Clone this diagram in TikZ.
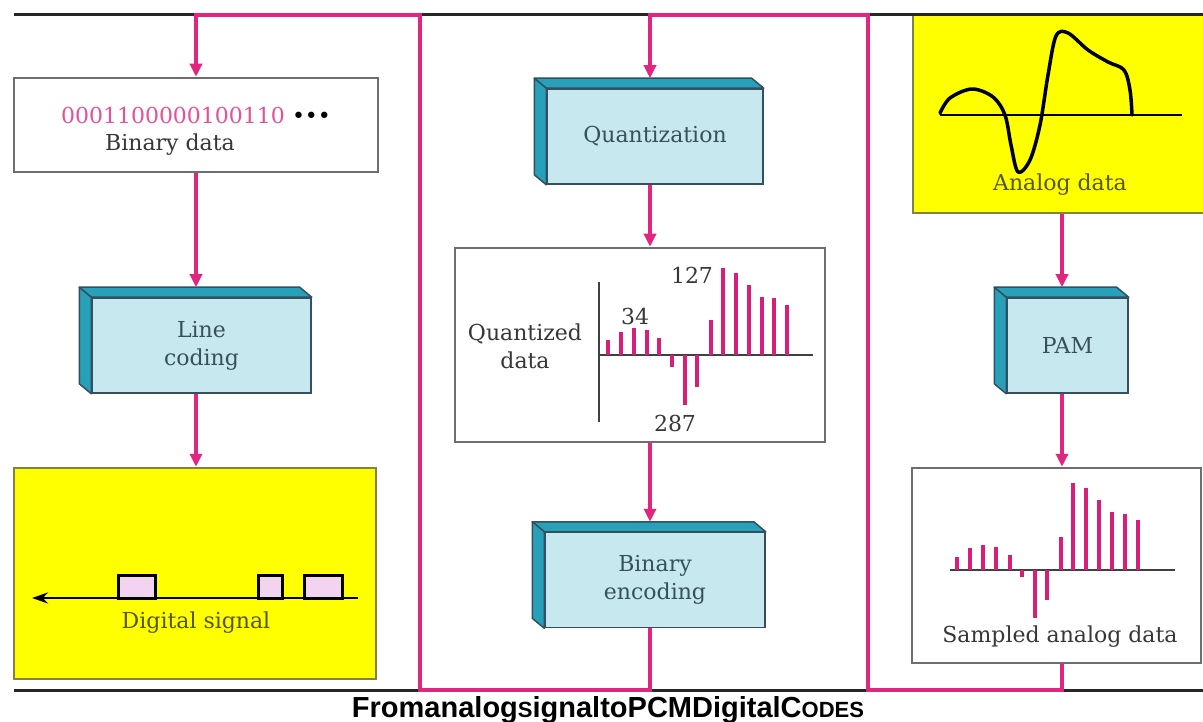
\documentclass[tikz,border=0pt]{standalone}
\usepackage{fontspec}
\setmainfont{DejaVu Serif}
\newfontfamily\capfont{Liberation Sans}
\usetikzlibrary{arrows.meta,calc}
\definecolor{mag}{RGB}{226,38,128}
\definecolor{digc}{RGB}{228,80,155}
\definecolor{barc}{RGB}{215,30,120}
\definecolor{frontc}{RGB}{200,232,240}
\definecolor{sidec}{RGB}{40,160,185}
\definecolor{edge}{RGB}{50,80,95}
\definecolor{boxtext}{RGB}{55,80,90}
\definecolor{yel}{RGB}{255,255,0}
\definecolor{yborder}{RGB}{130,130,70}
\definecolor{boxgray}{RGB}{110,110,110}
\definecolor{olivetext}{RGB}{85,85,20}
\definecolor{graytext}{RGB}{55,55,55}
\definecolor{pulsec}{RGB}{242,212,240}
\newcommand{\smcap}[1]{{\fontsize{22}{22}\selectfont #1}}
\newcommand{\tdbox}[4]{%
  \node[front, minimum width=#3] (#1) at #2 {#4};
  \filldraw[side] (#1.north west) -- (#1.north east) -- ++(-12,-10) -- ($(#1.north west)+(-12,-10)$) -- cycle;
  \filldraw[side] (#1.north west) -- (#1.south west) -- ++(-12,-10) -- ($(#1.north west)+(-12,-10)$) -- cycle;
}
\begin{document}
\begin{tikzpicture}[x=1pt,y=-1pt,
  every node/.style={font=\fontsize{22}{28}\selectfont},
  flow/.style={draw=mag, line width=3.5pt},
  arr/.style={flow, -{Triangle[length=13pt,width=12pt]}},
  rule/.style={draw=black!85, line width=3pt},
  wbox/.style={draw=boxgray, line width=2.5pt, fill=white, inner sep=0pt},
  ybox/.style={draw=yborder, line width=2.5pt, fill=yel, inner sep=0pt},
  front/.style={draw=edge, line width=1.5pt, fill=frontc, inner sep=0pt, minimum height=95pt, text=boxtext, align=center},
  side/.style={draw=edge, line width=1.5pt, fill=sidec, line join=round},
  lbl/.style={inner sep=0pt, text=graytext, align=center},
  ylbl/.style={inner sep=0pt, text=olivetext},
  axis/.style={draw=black!75, line width=2pt},
  bar/.style={draw=barc, line width=4pt},
  wave/.style={draw=black, line width=3.5pt, line cap=round, line join=round},
  pulse/.style={draw=black, line width=3pt, fill=pulsec}]
\useasboundingbox (0,0) rectangle (1203,722);
\fill[white] (0,0) rectangle (1203,722);
% column coordinates
\coordinate (cL) at (196,0);
\coordinate (cM) at (650,0);
\coordinate (cR) at (1062,0);
\coordinate (b1) at (420,690);
\coordinate (t1) at (420,15);
\coordinate (b2) at (868,690);
\coordinate (t2) at (868,15);

% ---- left column
\node[wbox, minimum width=364pt, minimum height=94pt] (bd) at (196,125) {};
\node[inner sep=0pt] (bdbits) at (196,115) {\textcolor{digc}{0001100000100110} •••};
\node[lbl] (bdlbl) at (170,145) {Binary data};
\tdbox{lc}{(201.5,345.5)}{219pt}{Line\\coding}
\node[ybox, minimum width=362pt, minimum height=211pt] (ds) at (195,573.5) {};
\coordinate (dsr) at (358,598);
\coordinate (dsl) at (32,598);
\draw[pulse] (118,598) rectangle (155,575);
\draw[pulse] (258,598) rectangle (282,575);
\draw[pulse] (304,598) rectangle (342,575);
\draw[draw=black, line width=2.5pt, -{Stealth[length=16pt,width=11pt]}] (dsr) -- (dsl);
\node[ylbl] (dslbl) at (196,623) {Digital signal};

% ---- middle column
\tdbox{qz}{(655,136.5)}{216pt}{Quantization}
\node[wbox, minimum width=370pt, minimum height=194pt] (qd) at (640,345) {};
\node[lbl] (qdlbl) at (525,346) {Quantized\\data};
\draw[axis] (599,282) -- (599,422);
\draw[axis] (599,355) -- (813,355);
\foreach \x/\y in {608/340,621/332,634/328,647/330,659/338,672/367,685/405,697/387,711/320,723/268,736/273,749/285,762/297,774/298,787/305}
  \draw[bar] (\x,355) -- (\x,\y);
\node[lbl] (n34) at (635,316) {34};
\node[lbl] (n127) at (692,275) {127};
\node[lbl] (n287) at (675,423) {287};
\tdbox{be}{(655,580)}{220pt}{Binary\\encoding}

% ---- right column
\node[ybox, minimum width=292pt, minimum height=198pt] (ad) at (1059,114) {};
\draw[draw=black, line width=2pt] (940,115) -- (1182,115);
\draw[wave] plot[smooth, tension=0.55] coordinates {(940,113) (950,98) (972,89) (993,97) (1005,115) (1011,145) (1018,172) (1030,160) (1040,125) (1048,75) (1056,36) (1068,33) (1088,50) (1108,62) (1124,70) (1130,90) (1132,115)};
\node[ylbl] (adlbl) at (1060,185) {Analog data};
\tdbox{pam}{(1067.5,345.5)}{121pt}{PAM}
\node[wbox, minimum width=289pt, minimum height=195pt] (sa) at (1056.5,565.5) {};
\draw[axis] (950,570) -- (1175,570);
\foreach \x/\y in {957/557,970/548,983/545,996/547,1010/555,1022/577,1035/618,1047/600,1061/537,1073/483,1086/488,1099/500,1112/512,1125/514,1138/520}
  \draw[bar] (\x,570) -- (\x,\y);
\node[lbl] (salbl) at (1060,637) {Sampled analog data};

% ---- frame rules
\draw[rule] (14,15) -- (1203,15);
\draw[rule] (14,690) -- (1203,690);

% ---- flows
\draw[arr] (bd.south -| cL) -- ($(lc.north -| cL)+(0,-10)$);
\draw[arr] (lc.south -| cL) -- (ds.north -| cL);
\draw[arr] (qz.south -| cM) -- (qd.north -| cM);
\draw[arr] (qd.south -| cM) -- ($(be.north -| cM)+(0,-10)$);
\draw[arr] (ad.south -| cR) -- ($(pam.north -| cR)+(0,-10)$);
\draw[arr] (pam.south -| cR) -- (sa.north -| cR);
\draw[arr] (be.south -| cM) -- (cM |- b1) -- (b1) -- (t1) -- (t1 -| cL) -- (bd.north -| cL);
\draw[arr] (sa.south -| cR) -- (cR |- b2) -- (b2) -- (t2) -- (t2 -| cM) -- ($(qz.north -| cM)+(0,-10)$);

% ---- caption
\node[font=\capfont\bfseries\fontsize{29}{30}\selectfont, anchor=base, inner sep=0pt] (cap) at (608,717) {Fromanalog\smcap{S}ignaltoPCMDigitalC\smcap{ODES}};
\end{tikzpicture}
\end{document}
